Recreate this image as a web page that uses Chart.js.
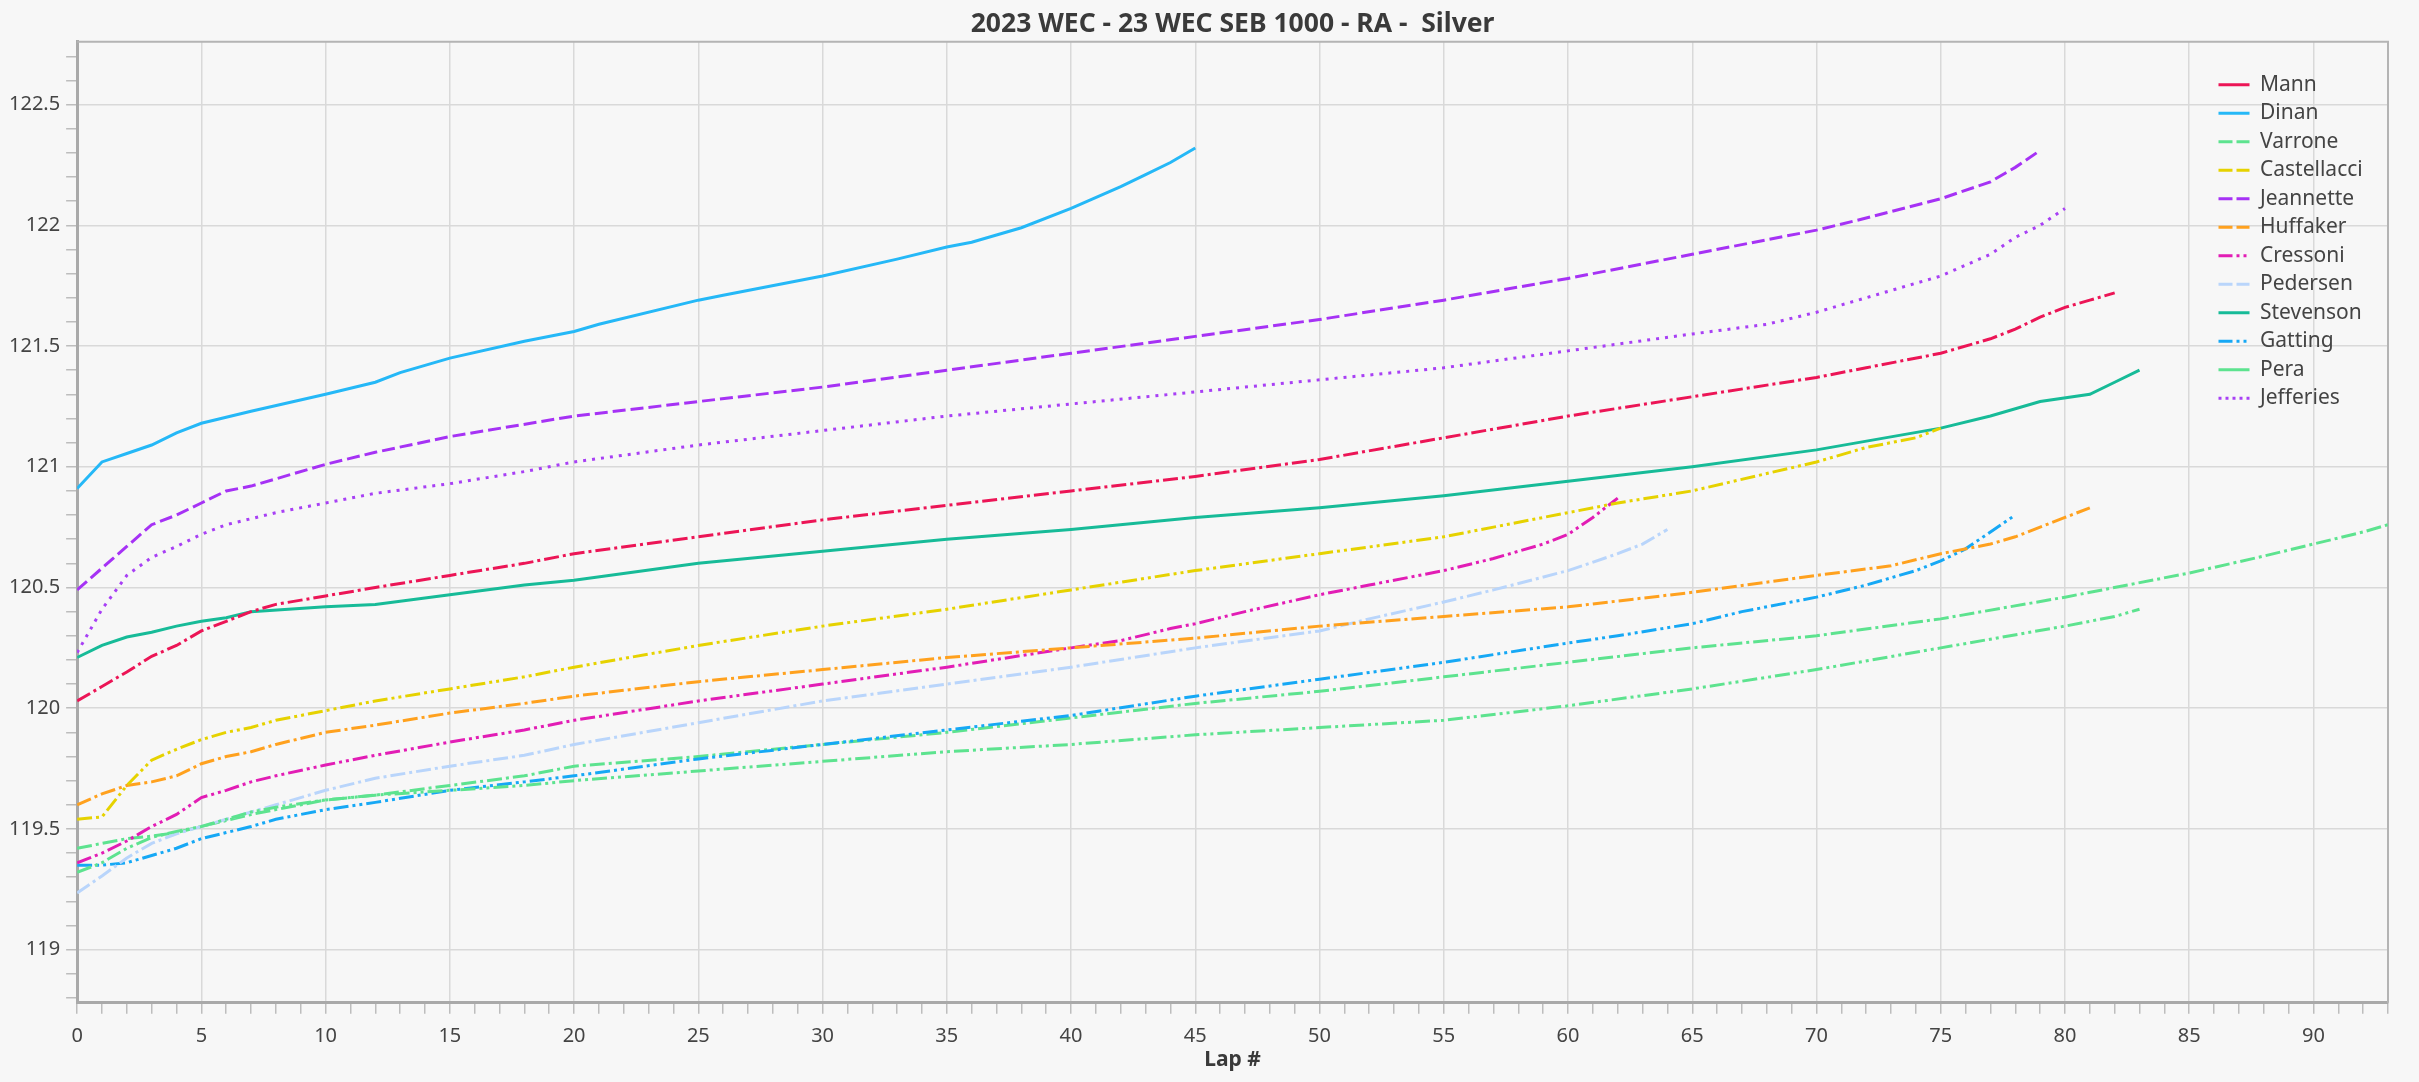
<!DOCTYPE html>
<html>
<head>
<meta charset="utf-8">
<title>2023 WEC - 23 WEC SEB 1000 - RA - Silver</title>
<script src="https://cdn.jsdelivr.net/npm/chart.js@4.4.0/dist/chart.umd.min.js"></script>
<style>
  html, body { margin: 0; padding: 0; background: #f7f7f7; }
  #wrap { width: 2419px; height: 1082px; }
</style>
</head>
<body>
<div id="wrap"><canvas id="lap-chart"></canvas></div>
<script>
// Datos: vueltas y tiempo medio por piloto
const drivers = ['Mann', 'Dinan', 'Varrone', 'Castellacci', 'Jeannette', 'Huffaker', 'Cressoni', 'Pedersen', 'Stevenson', 'Gatting', 'Pera', 'Jefferies'];

const mannLaps = [0, 1, 2, 3, 4, 5, 6, 7, 8, 10, 12, 15, 18, 20, 25, 30, 35, 40, 45, 50, 55, 60, 65, 70, 72, 75, 77, 78, 79, 80, 81, 82];
const mannTimes = [120.03, 120.09, 120.15, 120.215, 120.26, 120.32, 120.36, 120.40, 120.43, 120.465, 120.50, 120.55, 120.60, 120.64, 120.71, 120.78, 120.84, 120.90, 120.96, 121.03, 121.12, 121.21, 121.29, 121.37, 121.41, 121.47, 121.53, 121.57, 121.62, 121.66, 121.69, 121.72];

const dinanLaps = [0, 1, 2, 3, 4, 5, 7, 10, 12, 13, 15, 18, 20, 21, 25, 26, 30, 33, 35, 36, 37, 38, 40, 42, 43, 44, 45];
const dinanTimes = [120.91, 121.02, 121.055, 121.09, 121.14, 121.18, 121.23, 121.30, 121.35, 121.39, 121.45, 121.52, 121.56, 121.59, 121.69, 121.71, 121.79, 121.86, 121.91, 121.93, 121.96, 121.99, 122.07, 122.16, 122.21, 122.26, 122.32];

const varroneLaps = [0, 1, 2, 3, 4, 5, 7, 8, 10, 12, 15, 18, 20, 25, 30, 35, 40, 45, 50, 55, 60, 65, 70, 75, 80, 82, 83];
const varroneTimes = [119.32, 119.36, 119.42, 119.465, 119.49, 119.51, 119.57, 119.59, 119.62, 119.64, 119.66, 119.68, 119.70, 119.74, 119.78, 119.82, 119.85, 119.89, 119.92, 119.95, 120.01, 120.08, 120.16, 120.25, 120.34, 120.38, 120.41];

const castellacciLaps = [0, 1, 2, 3, 4, 5, 6, 7, 8, 10, 12, 15, 18, 20, 25, 30, 35, 40, 45, 50, 55, 57, 60, 62, 65, 70, 72, 74, 75];
const castellacciTimes = [119.54, 119.55, 119.68, 119.785, 119.83, 119.87, 119.90, 119.92, 119.95, 119.99, 120.03, 120.08, 120.13, 120.17, 120.26, 120.34, 120.41, 120.49, 120.57, 120.64, 120.71, 120.75, 120.81, 120.85, 120.90, 121.02, 121.08, 121.12, 121.16];

const jeannetteLaps = [0, 1, 2, 3, 4, 5, 6, 7, 8, 10, 12, 15, 20, 25, 30, 35, 40, 45, 50, 55, 60, 65, 70, 72, 75, 77, 78, 79];
const jeannetteTimes = [120.49, 120.58, 120.67, 120.76, 120.80, 120.85, 120.90, 120.92, 120.95, 121.01, 121.06, 121.125, 121.21, 121.27, 121.33, 121.40, 121.47, 121.54, 121.61, 121.69, 121.78, 121.88, 121.98, 122.03, 122.11, 122.18, 122.24, 122.31];

const huffakerLaps = [0, 1, 2, 3, 4, 5, 6, 7, 8, 10, 12, 15, 18, 20, 25, 30, 35, 40, 45, 50, 55, 60, 65, 70, 73, 75, 77, 78, 79, 80, 81];
const huffakerTimes = [119.60, 119.645, 119.68, 119.695, 119.72, 119.77, 119.80, 119.82, 119.85, 119.90, 119.93, 119.98, 120.02, 120.05, 120.11, 120.16, 120.21, 120.25, 120.29, 120.34, 120.38, 120.42, 120.48, 120.55, 120.59, 120.64, 120.68, 120.71, 120.75, 120.79, 120.83];

const cressoniLaps = [0, 1, 2, 3, 4, 5, 6, 7, 8, 10, 12, 15, 18, 20, 25, 30, 35, 40, 42, 44, 45, 47, 50, 52, 55, 57, 59, 60, 61, 62];
const cressoniTimes = [119.36, 119.40, 119.45, 119.51, 119.56, 119.63, 119.66, 119.695, 119.72, 119.765, 119.805, 119.86, 119.91, 119.95, 120.03, 120.10, 120.17, 120.25, 120.28, 120.33, 120.35, 120.40, 120.47, 120.51, 120.57, 120.62, 120.68, 120.72, 120.79, 120.87];

const pedersenLaps = [0, 1, 2, 3, 4, 5, 6, 7, 8, 10, 12, 15, 18, 20, 25, 30, 35, 40, 45, 50, 52, 55, 57, 60, 62, 63, 64];
const pedersenTimes = [119.235, 119.305, 119.38, 119.44, 119.48, 119.51, 119.54, 119.57, 119.60, 119.66, 119.71, 119.76, 119.805, 119.85, 119.94, 120.03, 120.10, 120.17, 120.25, 120.32, 120.37, 120.44, 120.49, 120.57, 120.64, 120.68, 120.74];

const stevensonLaps = [0, 1, 2, 3, 4, 5, 6, 7, 10, 12, 15, 18, 20, 25, 30, 35, 40, 45, 50, 55, 60, 65, 70, 75, 77, 79, 81, 82, 83];
const stevensonTimes = [120.21, 120.26, 120.295, 120.315, 120.34, 120.36, 120.375, 120.40, 120.42, 120.43, 120.47, 120.51, 120.53, 120.60, 120.65, 120.70, 120.74, 120.79, 120.83, 120.88, 120.94, 121.00, 121.07, 121.16, 121.21, 121.27, 121.30, 121.35, 121.40];

const gattingLaps = [0, 1, 2, 3, 4, 5, 6, 7, 8, 10, 12, 15, 18, 20, 25, 30, 35, 40, 45, 50, 55, 60, 62, 65, 67, 70, 72, 74, 75, 76, 77, 78];
const gattingTimes = [119.35, 119.35, 119.36, 119.39, 119.42, 119.46, 119.485, 119.51, 119.54, 119.58, 119.61, 119.66, 119.695, 119.72, 119.79, 119.85, 119.91, 119.97, 120.05, 120.12, 120.19, 120.27, 120.30, 120.35, 120.40, 120.46, 120.51, 120.57, 120.61, 120.66, 120.73, 120.80];

const peraLaps = [0, 1, 2, 3, 4, 5, 6, 7, 8, 10, 12, 15, 18, 20, 25, 30, 35, 40, 45, 50, 55, 60, 65, 70, 75, 80, 85, 88, 90, 92, 93];
const peraTimes = [119.42, 119.44, 119.46, 119.47, 119.485, 119.51, 119.535, 119.56, 119.58, 119.62, 119.64, 119.68, 119.72, 119.76, 119.80, 119.85, 119.90, 119.96, 120.02, 120.07, 120.13, 120.19, 120.25, 120.30, 120.37, 120.46, 120.56, 120.63, 120.68, 120.73, 120.76];

const jefferiesLaps = [0, 1, 2, 3, 4, 5, 6, 7, 8, 10, 12, 15, 18, 20, 25, 30, 35, 40, 45, 50, 55, 60, 65, 68, 70, 72, 75, 77, 78, 79, 80];
const jefferiesTimes = [120.23, 120.41, 120.55, 120.625, 120.67, 120.72, 120.76, 120.785, 120.81, 120.85, 120.89, 120.93, 120.98, 121.02, 121.09, 121.15, 121.21, 121.26, 121.31, 121.36, 121.41, 121.48, 121.55, 121.59, 121.64, 121.70, 121.79, 121.88, 121.95, 122.00, 122.07];

const lapSeries = [
  [mannLaps, mannTimes], [dinanLaps, dinanTimes], [varroneLaps, varroneTimes],
  [castellacciLaps, castellacciTimes], [jeannetteLaps, jeannetteTimes], [huffakerLaps, huffakerTimes],
  [cressoniLaps, cressoniTimes], [pedersenLaps, pedersenTimes], [stevensonLaps, stevensonTimes],
  [gattingLaps, gattingTimes], [peraLaps, peraTimes], [jefferiesLaps, jefferiesTimes]
];

// Estilos de cada linea
const SOLID = [];
const DASH = [13, 5];
const DOT = [3, 6];
const DASH_DOT = [15, 4, 3, 4];
const DASH_DOT_DOT = [15, 4, 3, 4, 3, 4];
const LEG_DASH = [14, 4];
const LEG_DASH_DOT = [14, 4, 3, 4, 3, 4];
const LEG_DOT = [3, 4];

const colors = ['#ec1556', '#25b8f7', '#5de38f', '#e6d200', '#a632f5', '#ffa11e', '#e21db5', '#b9d5fb', '#17bb98', '#16a8f5', '#5de38f', '#a840f5'];
const lineDash = [DASH_DOT, SOLID, DASH_DOT_DOT, DASH_DOT_DOT, DASH, DASH_DOT, DASH_DOT_DOT, DASH_DOT, SOLID, DASH_DOT_DOT, DASH_DOT, DOT];
const legendDash = [SOLID, SOLID, LEG_DASH, LEG_DASH, LEG_DASH, LEG_DASH, LEG_DASH_DOT, LEG_DASH, SOLID, LEG_DASH_DOT, SOLID, LEG_DOT];

const FONT = '"Noto Sans", "Open Sans", sans-serif';
const TEXT_COLOR = '#444444';
const GRID_COLOR = '#d9d9d9';
const isHalf = v => Math.abs(v * 2 - Math.round(v * 2)) < 1e-6;

// Marco superior y derecho del area del grafico
const plotFrame = {
  id: 'plotFrame',
  beforeDatasetsDraw(chart) {
    const { ctx, chartArea: a } = chart;
    ctx.save();
    ctx.strokeStyle = '#b4b4b4';
    ctx.lineWidth = 2;
    ctx.beginPath();
    ctx.moveTo(a.left, a.top);
    ctx.lineTo(a.right, a.top);
    ctx.lineTo(a.right, a.bottom);
    ctx.stroke();
    ctx.restore();
  }
};

// Leyenda arriba a la derecha dentro del area, titulo centrado sobre el area
const placeBoxes = {
  id: 'placeBoxes',
  beforeDraw(chart) {
    const a = chart.chartArea;
    const lg = chart.legend;
    if (lg) {
      lg.left = a.right - 177;
      lg.right = a.right;
      lg.top = a.top + 25;
      lg.bottom = a.bottom;
    }
    const tb = chart.titleBlock;
    if (tb) {
      tb.left = a.left;
      tb.right = a.right;
    }
  }
};

const datasets = lapSeries.map(([laps, times], i) => ({
  label: drivers[i],
  data: laps.map((lap, j) => ({ x: lap, y: times[j] })),
  borderColor: colors[i],
  backgroundColor: colors[i],
  borderDash: lineDash[i],
  borderWidth: 3,
  pointRadius: 0,
  tension: 0
}));

new Chart(document.getElementById('lap-chart'), {
  type: 'line',
  data: { datasets },
  plugins: [plotFrame, placeBoxes],
  options: {
    responsive: true,
    maintainAspectRatio: false,
    animation: false,
    devicePixelRatio: 1,
    layout: { padding: { left: 3, right: 31, top: 0, bottom: 9 } },
    plugins: {
      title: {
        display: true,
        text: '2023 WEC - 23 WEC SEB 1000 - RA -  Silver',
        color: '#3a3a3a',
        font: { family: FONT, size: 26.5, weight: 'bold' },
        padding: { top: 9, bottom: 1 }
      },
      legend: {
        position: 'chartArea',
        align: 'start',
        labels: {
          usePointStyle: true,
          pointStyle: 'line',
          pointStyleWidth: 31,
          padding: 7.5,
          color: TEXT_COLOR,
          font: { family: FONT, size: 21 },
          generateLabels(chart) {
            const items = Chart.defaults.plugins.legend.labels.generateLabels(chart);
            items.forEach((item, i) => {
              item.lineDash = legendDash[i];
              item.lineWidth = 3;
              item.pointStyle = 'line';
            });
            return items;
          }
        }
      },
      tooltip: { enabled: false }
    },
    scales: {
      x: {
        type: 'linear',
        min: 0,
        max: 93,
        title: {
          display: true,
          text: 'Lap #',
          color: '#3a3a3a',
          font: { family: FONT, size: 21, weight: 'bold' },
          padding: { top: -10, bottom: 0 }
        },
        ticks: {
          stepSize: 1,
          autoSkip: false,
          maxRotation: 0,
          padding: 10,
          color: TEXT_COLOR,
          font: { family: FONT, size: 20 },
          callback: v => (v % 5 === 0 ? v : '')
        },
        grid: {
          color: ctx => (ctx.tick && ctx.tick.value % 5 === 0 ? GRID_COLOR : 'rgba(0,0,0,0)'),
          lineWidth: 1.5,
          tickLength: 11,
          tickColor: '#bdbdbd'
        },
        border: { color: '#a9a9a9', width: 3 }
      },
      y: {
        type: 'linear',
        min: 118.78,
        max: 122.76,
        afterBuildTicks: axis => {
          const ticks = [];
          for (let i = Math.ceil(axis.min * 10); i <= Math.floor(axis.max * 10); i++) {
            ticks.push({ value: i / 10 });
          }
          axis.ticks = ticks;
        },
        ticks: {
          autoSkip: false,
          padding: 6,
          color: TEXT_COLOR,
          font: { family: FONT, size: 20 },
          callback: v => (isHalf(v) ? String(+v.toFixed(1)) : '')
        },
        grid: {
          color: ctx => (ctx.tick && isHalf(ctx.tick.value) ? GRID_COLOR : 'rgba(0,0,0,0)'),
          lineWidth: 1.5,
          tickLength: 11,
          tickColor: '#bdbdbd'
        },
        border: { color: '#a9a9a9', width: 3 }
      }
    }
  }
});
</script>
</body>
</html>
